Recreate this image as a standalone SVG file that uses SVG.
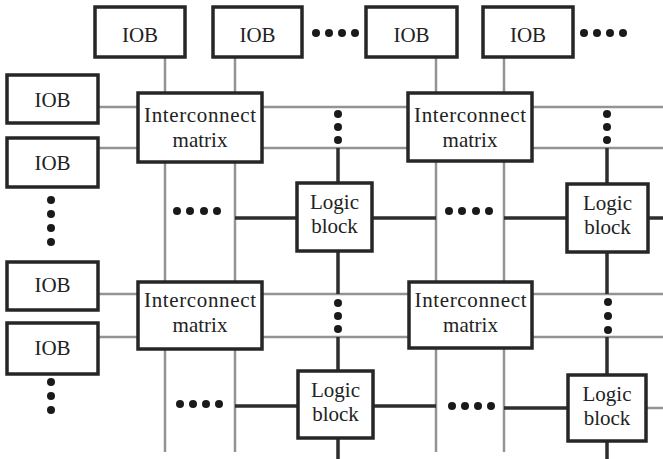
<svg xmlns="http://www.w3.org/2000/svg" width="663" height="459" viewBox="0 0 663 459">
<style>
.box{fill:#fff;stroke:#262626;stroke-width:3.5}
.g{stroke:#939393;stroke-width:2.5;fill:none}
.d{stroke:#2e2e2e;stroke-width:3.5;fill:none}
.t{font-family:"Liberation Serif","Times New Roman",serif;font-size:21px;fill:#222;text-anchor:middle}
.dot{fill:#1a1a1a}
</style>
<rect width="663" height="459" fill="#fff"/>
<g id="connectors">
  <!-- gray verticals -->
  <path class="g" d="M165 57V452M235 57V452M436 57V452M504 57V452"/>
  <!-- gray horizontals -->
  <path class="g" d="M98 107H663M98 148H663M98 294H663M98 337H663"/>
  <!-- dark verticals -->
  <path class="d" d="M338 148V183M338 251V294M338 337V371M338 438V459"/>
  <path class="d" d="M607 148V184M607 252V294M607 337V375M607 441V459"/>
  <!-- dark horizontals -->
  <path class="d" d="M235 218H297M372 218H436M504 218H567M648 218H663"/>
  <path class="d" d="M235 406H298M373 406H436M504 408H568"/>
  <path class="g" d="M646 408H663"/>
</g>
<g id="dots">
  <circle class="dot" cx="316" cy="33" r="4"/><circle class="dot" cx="329" cy="33" r="4"/><circle class="dot" cx="342" cy="33" r="4"/><circle class="dot" cx="355" cy="33" r="4"/>
  <circle class="dot" cx="584" cy="33" r="4"/><circle class="dot" cx="597" cy="33" r="4"/><circle class="dot" cx="610" cy="33" r="4"/><circle class="dot" cx="623" cy="33" r="4"/>
  <circle class="dot" cx="51" cy="200" r="4"/><circle class="dot" cx="51" cy="214" r="4"/><circle class="dot" cx="51" cy="228" r="4"/><circle class="dot" cx="51" cy="242" r="4"/>
  <circle class="dot" cx="51" cy="382" r="4"/><circle class="dot" cx="51" cy="396" r="4"/><circle class="dot" cx="51" cy="410" r="4"/>
  <circle class="dot" cx="338" cy="114" r="4"/><circle class="dot" cx="338" cy="127" r="4"/><circle class="dot" cx="338" cy="140" r="4"/>
  <circle class="dot" cx="607" cy="114" r="4"/><circle class="dot" cx="607" cy="127" r="4"/><circle class="dot" cx="607" cy="140" r="4"/>
  <circle class="dot" cx="338" cy="303" r="4"/><circle class="dot" cx="338" cy="316" r="4"/><circle class="dot" cx="338" cy="329" r="4"/>
  <circle class="dot" cx="608" cy="302" r="4"/><circle class="dot" cx="608" cy="316" r="4"/><circle class="dot" cx="608" cy="330" r="4"/>
  <circle class="dot" cx="177" cy="211" r="4"/><circle class="dot" cx="190" cy="211" r="4"/><circle class="dot" cx="204" cy="211" r="4"/><circle class="dot" cx="217" cy="211" r="4"/>
  <circle class="dot" cx="449" cy="211" r="4"/><circle class="dot" cx="462" cy="211" r="4"/><circle class="dot" cx="476" cy="211" r="4"/><circle class="dot" cx="489" cy="211" r="4"/>
  <circle class="dot" cx="180" cy="404" r="4"/><circle class="dot" cx="193" cy="404" r="4"/><circle class="dot" cx="206" cy="404" r="4"/><circle class="dot" cx="219" cy="404" r="4"/>
  <circle class="dot" cx="452" cy="406" r="4"/><circle class="dot" cx="465" cy="406" r="4"/><circle class="dot" cx="478" cy="406" r="4"/><circle class="dot" cx="491" cy="406" r="4"/>
</g>
<g id="iob-top-1"><rect class="box" x="95" y="7" width="90" height="50"/><text class="t" x="140" y="42">IOB</text></g>
<g id="iob-top-2"><rect class="box" x="213" y="7" width="89" height="50"/><text class="t" x="257.5" y="42">IOB</text></g>
<g id="iob-top-3"><rect class="box" x="366" y="7" width="91" height="50"/><text class="t" x="411.5" y="42">IOB</text></g>
<g id="iob-top-4"><rect class="box" x="483" y="7" width="90" height="50"/><text class="t" x="528" y="42">IOB</text></g>
<g id="iob-left-1"><rect class="box" x="7" y="75" width="91" height="48"/><text class="t" x="52.5" y="107">IOB</text></g>
<g id="iob-left-2"><rect class="box" x="7" y="138" width="91" height="49"/><text class="t" x="52.5" y="170">IOB</text></g>
<g id="iob-left-3"><rect class="box" x="7" y="262" width="91" height="48"/><text class="t" x="52.5" y="292">IOB</text></g>
<g id="iob-left-4"><rect class="box" x="7" y="323" width="91" height="51"/><text class="t" x="52.5" y="355">IOB</text></g>
<g id="matrix-1"><rect class="box" x="138" y="93" width="124" height="69"/><text class="t" x="200" y="122" textLength="112">Interconnect</text><text class="t" x="200" y="147">matrix</text></g>
<g id="matrix-2"><rect class="box" x="408" y="93" width="124" height="68"/><text class="t" x="470" y="122" textLength="112">Interconnect</text><text class="t" x="470" y="147">matrix</text></g>
<g id="matrix-3"><rect class="box" x="138" y="282" width="124" height="67"/><text class="t" x="200" y="307" textLength="112">Interconnect</text><text class="t" x="200" y="332">matrix</text></g>
<g id="matrix-4"><rect class="box" x="409" y="282" width="123" height="66"/><text class="t" x="470.5" y="307" textLength="112">Interconnect</text><text class="t" x="470.5" y="332">matrix</text></g>
<g id="logic-1"><rect class="box" x="297" y="183" width="75" height="68"/><text class="t" x="334.5" y="209">Logic</text><text class="t" x="334.5" y="233">block</text></g>
<g id="logic-2"><rect class="box" x="567" y="184" width="81" height="68"/><text class="t" x="607.5" y="210">Logic</text><text class="t" x="607.5" y="234">block</text></g>
<g id="logic-3"><rect class="box" x="298" y="371" width="75" height="67"/><text class="t" x="335.5" y="397">Logic</text><text class="t" x="335.5" y="421">block</text></g>
<g id="logic-4"><rect class="box" x="568" y="375" width="78" height="66"/><text class="t" x="607" y="401">Logic</text><text class="t" x="607" y="425">block</text></g>
</svg>
